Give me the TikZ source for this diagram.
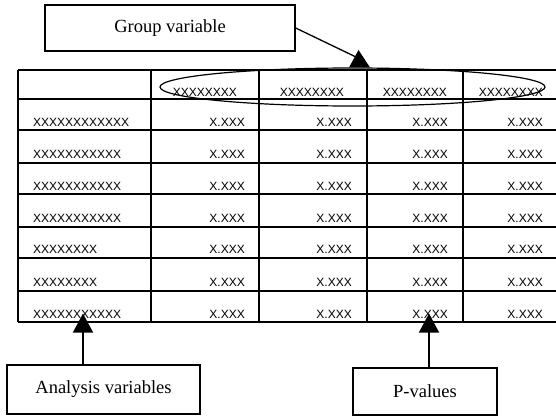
\documentclass[tikz,border=0pt]{standalone}
\usepackage{fontspec}
\setmainfont{Liberation Serif}
\newfontfamily\tabfont{Liberation Sans}
\usetikzlibrary{arrows.meta}
\begin{document}
\begin{tikzpicture}[x=1pt,y=-1pt,
  labelbox/.style={draw,line width=1.3pt,inner sep=0pt,font=\fontsize{18.5}{20}\selectfont},
  grid/.style={line width=1.5pt},
  celltext/.style={inner sep=0pt,font=\tabfont\fontsize{12}{14}\selectfont},
  lefttext/.style={celltext,anchor=base west},
  righttext/.style={celltext,anchor=base east},
  bigarrow/.style={line width=1.3pt,-{Triangle[width=20pt,length=19pt]}}]
\useasboundingbox (0,0) rectangle (556,417);
% table grid
\foreach \yy in {70,99,130,163,194,227,258,291,322}
  \draw[grid] (18,\yy) -- (556,\yy);
\foreach \xx in {18,151,259,367,463}
  \draw[grid] (\xx,70) -- (\xx,322);
% header
\node[righttext] (h2) at (237,97) {XXXXXXXX};
\node[righttext] (h3) at (344,97) {XXXXXXXX};
\node[righttext] (h4) at (447,97) {XXXXXXXX};
\node[righttext] (h5) at (543,97) {XXXXXXXX};
% rows
\foreach \yy/\lab [count=\i] in {126.5/XXXXXXXXXXXX,158.5/XXXXXXXXXXX,190/XXXXXXXXXXX,222.5/XXXXXXXXXXX,253.5/XXXXXXXX,286.5/XXXXXXXX,318/XXXXXXXXXXX}{
  \node[lefttext] (r\i c1) at (33,\yy) {\lab};
  \node[righttext] (r\i c2) at (245,\yy) {X.XXX};
  \node[righttext] (r\i c3) at (352,\yy) {X.XXX};
  \node[righttext] (r\i c4) at (448,\yy) {X.XXX};
  \node[righttext] (r\i c5) at (543,\yy) {X.XXX};
}
% ellipse around group columns
\draw[line width=1.2pt] (352.5,87) ellipse [x radius=192.5pt, y radius=19pt];
% label boxes
\node[labelbox,minimum width=250pt,minimum height=46pt] (gv) at (170,28) {Group variable};
\node[labelbox,minimum width=193pt,minimum height=49pt] (av) at (103.5,389.5) {Analysis variables};
\node[labelbox,minimum width=144pt,minimum height=47pt] (pv) at (425,391.5) {P-values};
% group variable connector
\coordinate (gvend) at (356,57);
\draw[line width=1.3pt] (gv.east) -- (gvend);
\fill (358.5,50) -- (370,67.5) -- (349,67.5) -- cycle;
% analysis and p-value arrows
\coordinate (avtip) at (83,313.5);
\coordinate (pvtip) at (429,313.5);
\draw[bigarrow] (avtip |- av.north) -- (avtip);
\draw[bigarrow] (pvtip |- pv.north) -- (pvtip);
\end{tikzpicture}
\end{document}
